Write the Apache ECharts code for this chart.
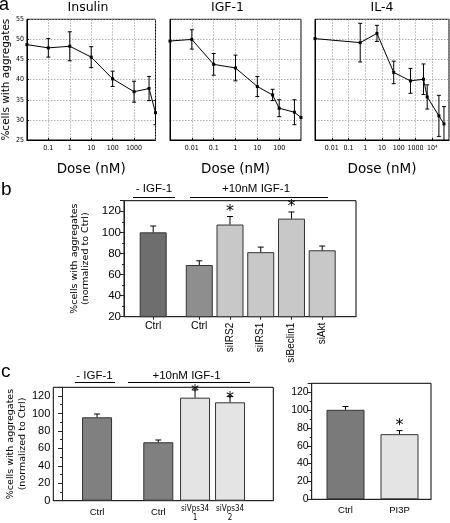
<!DOCTYPE html>
<html><head><meta charset="utf-8">
<script src="https://cdn.jsdelivr.net/npm/echarts@6/dist/echarts.min.js"></script>
<style>html,body{margin:0;padding:0;background:#fff}#c{width:450px;height:523px}</style>
</head><body><div id="c"></div>
<script>
// ---- Panel a data ----
const insulinDose = [0.01, 0.1, 1, 10, 100, 1000, 5000, 10000];
const insulinPct  = [48.7, 47.9, 48.3, 45.6, 40.2, 37.0, 37.8, 31.8];
const insulinErr  = [0, 2.3, 3.6, 2.6, 1.9, 2.6, 3.0, 3.0];

const igfDose = [0.001, 0.01, 0.1, 1, 10, 50, 100, 500, 1000];
const igfPct  = [49.6, 50.0, 43.8, 42.9, 38.3, 36.2, 32.9, 31.9, 30.6];
const igfErr  = [0, 2.4, 2.7, 3.2, 2.5, 1.4, 2.1, 3.1, 0];

const il4Dose = [0.001, 0.5, 5, 50, 500, 3000, 5000, 25000, 50000];
const il4Pct  = [50.2, 49.2, 51.5, 41.8, 39.7, 40.1, 35.7, 31.0, 29.0];
const il4Err  = [0, 4.8, 2.0, 2.8, 3.1, 3.8, 3.0, 5.1, 4.3];

const panelATitles = ['Insulin', 'IGF-1', 'IL-4'];

// ---- Panel b data ----
const catsB  = ['Ctrl', 'Ctrl', 'siIRS2', 'siIRS1', 'siBeclin1', 'siAkt'];
const valsB  = [100, 69, 107.4, 81.2, 113, 83];
const errB   = [6, 4, 7.6, 4.8, 6.3, 4];
const starB  = [0, 0, 1, 0, 1, 0];

// ---- Panel c data ----
const catsC  = ['Ctrl', 'Ctrl', 'siVps34\n1', 'siVps34\n2'];
const valsC  = [95.6, 67, 118.1, 112.8];
const errC   = [3.8, 2.6, 8.9, 6.5];
const starC  = [0, 0, 1, 1];

const catsD  = ['Ctrl', 'PI3P'];
const valsD  = [100.3, 73];
const errD   = [3.7, 4];
const starD  = [0, 1];

// ---- layout (positions of bars along value x axes) ----
const posB = [1, 2.5, 3.5, 4.5, 5.5, 6.5];
const posC = [1, 2.75, 3.8, 4.8];
const posD = [1, 2];

const colB = ['#6e6e6e', '#8e8e8e', '#c8c8c8', '#c8c8c8', '#c8c8c8', '#c8c8c8'];
const colC = ['#808080', '#808080', '#e4e4e4', '#e4e4e4'];
const colD = ['#7a7a7a', '#e4e4e4'];

const FN = "'DejaVu Sans', sans-serif";
const FA = "'Liberation Sans', Arial, sans-serif";
const FNAR = "'Liberation Sans Narrow', 'DejaVu Sans Condensed', sans-serif";

function logLabel(v) {
  const e = Math.round(Math.log10(v));
  if (e >= 4) return '10\u2074';
  if (e < 0) return Math.pow(10, e).toFixed(-e);
  return String(Math.pow(10, e));
}
function nameAt(pos, names) {
  return function (v) {
    for (let i = 0; i < pos.length; i++) if (Math.abs(pos[i] - v) < 1e-6) return names[i];
    return '';
  };
}

function makeErr(capHalf, upOnly, starFont, starOff) {
  return function (params, api) {
    const x = api.value(0), y = api.value(1), e = api.value(2), s = api.value(3);
    const ch = [];
    const st = { stroke: '#000', lineWidth: 1 };
    if (e > 0) {
      const pt = api.coord([x, y + e]);
      const pb = api.coord([x, upOnly ? y : y - e]);
      ch.push({ type: 'line', shape: { x1: pt[0], y1: pt[1], x2: pb[0], y2: pb[1] }, style: st });
      ch.push({ type: 'line', shape: { x1: pt[0] - capHalf, y1: pt[1], x2: pt[0] + capHalf, y2: pt[1] }, style: st });
      if (!upOnly) ch.push({ type: 'line', shape: { x1: pb[0] - capHalf, y1: pb[1], x2: pb[0] + capHalf, y2: pb[1] }, style: st });
    }
    if (s) {
      const p = api.coord([x, y + e]);
      ch.push({ type: 'text', x: p[0], y: p[1] + starOff,
        style: { text: '*', fill: '#000', font: starFont, align: 'center', verticalAlign: 'middle' } });
    }
    return { type: 'group', children: ch };
  };
}

const chart = echarts.init(document.getElementById('c'), null, { renderer: 'canvas' });

const gridsA = [
  { left: 23.5, top: 19.3, width: 132, height: 120.7 },
  { left: 170, top: 19.3, width: 131, height: 120.7 },
  { left: 315, top: 19.3, width: 134, height: 120.7 }
];
const grids = gridsA.concat([
  { left: 124, top: 200.7, width: 232, height: 116 },
  { left: 53.3, top: 387.3, width: 220, height: 113.4 },
  { left: 311.7, top: 383.3, width: 119.3, height: 116 }
]).map(g => Object.assign({ show: true, borderColor: '#000', borderWidth: 1, backgroundColor: 'transparent' }, g));

const doseRanges = [[0.01, 10000], [0.001, 1000], [0.001, 100000]];
const dotted = { show: true, lineStyle: { color: '#9a9a9a', type: [1.5, 1.5], width: 0.8 } };

const xAxes = [];
const yAxes = [];
for (let i = 0; i < 3; i++) {
  xAxes.push({
    type: 'log', logBase: 10, gridIndex: i, min: doseRanges[i][0], max: doseRanges[i][1],
    axisLine: { lineStyle: { color: '#000' } },
    axisTick: { inside: true, length: 2, lineStyle: { color: '#000' } },
    axisLabel: { formatter: logLabel, showMinLabel: false, showMaxLabel: false, fontSize: 7, color: '#000', fontFamily: FNAR, margin: 5 },
    splitLine: dotted,
    name: 'Dose (nM)', nameLocation: 'middle', nameGap: 22,
    nameTextStyle: { fontSize: 13.5, fontFamily: FN, color: '#000' }
  });
  yAxes.push({
    type: 'value', gridIndex: i, min: 25, max: 55, interval: 5,
    axisLine: { lineStyle: { color: '#000' } },
    axisTick: { show: i === 0, inside: true, length: 2, lineStyle: { color: '#000' } },
    axisLabel: { show: i === 0, fontSize: 7, color: '#000', fontFamily: FNAR, margin: 3 },
    splitLine: dotted,
    name: i === 0 ? '%cells with aggregates' : '', nameLocation: 'middle', nameGap: 11,
    nameTextStyle: { fontSize: 10.5, fontFamily: FN, color: '#000' }
  });
}
// panel b axes
xAxes.push({
  type: 'value', gridIndex: 3, min: 0.05, max: 7.6, position: 'bottom',
  axisLine: { lineStyle: { color: '#222' } },
  axisTick: { customValues: posB, length: 3, lineStyle: { color: '#222' } },
  axisLabel: { customValues: [posB[0], posB[1]], formatter: nameAt(posB, catsB), fontSize: 10.5, fontFamily: FA, color: '#000', margin: 4 },
  splitLine: { show: false }
});
xAxes.push({
  type: 'value', gridIndex: 3, min: 0.05, max: 7.6, position: 'bottom', offset: 0,
  axisLine: { show: false }, axisTick: { show: false },
  axisLabel: { customValues: posB.slice(2), formatter: nameAt(posB, catsB), rotate: 90, fontSize: 10, fontFamily: FA, color: '#000', margin: 6 },
  splitLine: { show: false }
});
yAxes.push({
  type: 'value', gridIndex: 3, min: 20, max: 130, interval: 20,
  axisLine: { lineStyle: { color: '#222' } },
  axisTick: { length: 4, lineStyle: { color: '#222' } },
  minorTick: { show: true, splitNumber: 2, length: 2, lineStyle: { color: '#222' } },
  axisLabel: { showMaxLabel: false, fontSize: 11.5, fontFamily: FA, color: '#000', margin: 3 },
  splitLine: { show: false },
  name: '%cells with aggregates\n(normalized to Ctrl)', nameLocation: 'middle', nameGap: 30,
  nameTextStyle: { fontSize: 9.5, fontFamily: FN, color: '#000', lineHeight: 11 }
});
// panel c left
xAxes.push({
  type: 'value', gridIndex: 4, min: -0.25, max: 6.036, position: 'bottom',
  axisLine: { lineStyle: { color: '#222' } },
  axisTick: { show: false },
  axisLabel: { customValues: posC, formatter: function (v) {
      const n = nameAt(posC, catsC)(v);
      return n.indexOf('\n') >= 0 ? n.split('\n').map(t => '{s|' + t + '}').join('\n') : '{c|' + n + '}';
    },
    rich: { s: { fontSize: 8, fontFamily: FNAR, color: '#000', lineHeight: 9 }, c: { fontSize: 9.5, fontFamily: FA, color: '#000', padding: [3, 0, 0, 0] } },
    margin: 4 },
  splitLine: { show: false }
});
yAxes.push({
  type: 'value', gridIndex: 4, min: 0, max: 130, interval: 20,
  axisLine: { lineStyle: { color: '#222' } },
  axisTick: { length: 4, lineStyle: { color: '#222' } },
  minorTick: { show: true, splitNumber: 2, length: 2, lineStyle: { color: '#222' } },
  axisLabel: { showMaxLabel: false, fontSize: 11, fontFamily: FA, color: '#000', margin: 3 },
  splitLine: { show: false },
  name: '%cells with aggregates\n(normalized to Ctrl)', nameLocation: 'middle', nameGap: 25,
  nameTextStyle: { fontSize: 9.5, fontFamily: FN, color: '#000', lineHeight: 12 }
});
// panel c right
xAxes.push({
  type: 'value', gridIndex: 5, min: 0.374, max: 2.583, position: 'bottom',
  axisLine: { lineStyle: { color: '#222' } },
  axisTick: { customValues: posD, length: 2, inside: true, lineStyle: { color: '#222' } },
  axisLabel: { customValues: posD, formatter: nameAt(posD, catsD), fontSize: 9.5, fontFamily: FA, color: '#000', margin: 6 },
  splitLine: { show: false }
});
yAxes.push({
  type: 'value', gridIndex: 5, min: 0, max: 130, interval: 20,
  axisLine: { lineStyle: { color: '#222' } },
  axisTick: { length: 4, lineStyle: { color: '#222' } },
  minorTick: { show: true, splitNumber: 2, length: 2, lineStyle: { color: '#222' } },
  axisLabel: { showMaxLabel: false, fontSize: 10.5, fontFamily: FA, color: '#000', margin: 3 },
  splitLine: { show: false }
});

const series = [];
const aData = [[insulinDose, insulinPct, insulinErr], [igfDose, igfPct, igfErr], [il4Dose, il4Pct, il4Err]];
aData.forEach(function (d, i) {
  series.push({
    type: 'line', xAxisIndex: i, yAxisIndex: i,
    data: d[0].map((x, k) => [x, d[1][k]]),
    symbol: 'rect', symbolSize: 3, itemStyle: { color: '#000' },
    lineStyle: { color: '#000', width: 1 }, animation: false, z: 3
  });
  series.push({
    type: 'custom', xAxisIndex: i, yAxisIndex: i, clip: true,
    data: d[0].map((x, k) => [x, d[1][k], d[2][k], 0]),
    encode: { x: 0, y: 1 },
    renderItem: makeErr(2, false, '', 0), animation: false, z: 4
  });
});

function barPanel(xi, yi, pos, vals, errs, stars, cols, bw, starOff) {
  series.push({
    type: 'bar', xAxisIndex: xi, yAxisIndex: yi, barWidth: bw,
    data: pos.map((p, k) => ({ value: [p, vals[k]], itemStyle: { color: cols[k] } })),
    itemStyle: { borderColor: '#333', borderWidth: 1 }, animation: false, z: 2
  });
  series.push({
    type: 'custom', xAxisIndex: xi, yAxisIndex: yi, clip: false,
    data: pos.map((p, k) => [p, vals[k], errs[k], stars[k]]),
    encode: { x: 0, y: 1 },
    renderItem: makeErr(3, true, '16px ' + FN, starOff), animation: false, z: 4
  });
}
barPanel(3, 3, posB, valsB, errB, starB, colB, 27, -5);
barPanel(5, 4, posC, valsC, errC, starC, colC, 30, 2);
barPanel(6, 5, posD, valsD, errD, starD, colD, 38, -5);

function txt(x, y, t, font, align) {
  return { type: 'text', x: x, y: y, style: { text: t, font: font, fill: '#000', align: align || 'center', verticalAlign: 'middle' } };
}
function hline(x1, x2, y) {
  return { type: 'line', shape: { x1: x1, y1: y, x2: x2, y2: y }, style: { stroke: '#000', lineWidth: 1 } };
}
const graphics = [
  txt(-1, 5, 'a', '18px ' + FA, 'left'),
  txt(88, 8, panelATitles[0], '12.5px ' + FN),
  txt(227.5, 8, panelATitles[1], '12.5px ' + FN),
  txt(382, 8, panelATitles[2], '12.5px ' + FN),
  txt(1, 190, 'b', '19px ' + FA, 'left'),
  txt(154, 189, '- IGF-1', '11.5px ' + FA), hline(133, 175, 197.5),
  txt(256, 189, '+10nM IGF-1', '11.5px ' + FA), hline(190, 328, 197.5),
  txt(1, 372, 'c', '19px ' + FA, 'left'),
  txt(94.5, 376, '- IGF-1', '11.5px ' + FA), hline(75, 115, 382.5),
  txt(186.5, 376, '+10nM IGF-1', '11.5px ' + FA), hline(128, 250, 382.5)
];

chart.setOption({
  animation: false,
  backgroundColor: '#fff',
  grid: grids,
  xAxis: xAxes,
  yAxis: yAxes,
  series: series,
  graphic: graphics
});
</script></body></html>
